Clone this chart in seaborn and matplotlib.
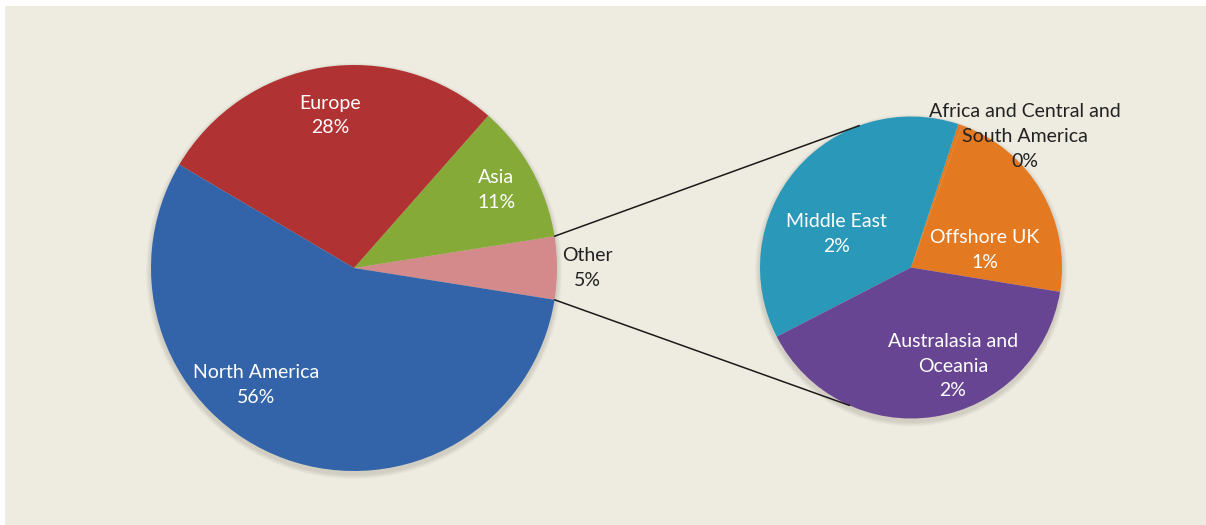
import numpy as np
import matplotlib
matplotlib.use("Agg")
import matplotlib.pyplot as plt
import seaborn as sns
from matplotlib.patches import Rectangle, Circle

# ── data ──────────────────────────────────────────────────────────────────
main_labels = ["Other", "Asia", "Europe", "North America"]
main_values = [5, 11, 28, 56]

sub_labels = ["Offshore UK", "Africa and Central and\nSouth America",
              "Middle East", "Australasia and\nOceania"]
sub_values = [1.11, 0.02, 1.89, 2.0]

# ── styles ────────────────────────────────────────────────────────────────
main_colors = ["#d4898a", "#86aa38", "#b03233", "#3364a9"]
sub_colors = ["#e37a22", "#e37a22", "#2a98b8", "#684593"]
BG = "#eeebe1"

# label placement: (radius fraction, angle offset in degrees, text colour)
main_lab_style = [(1.15, 0, "#222222"), (0.80, 0, "white"),
                  (0.76, 0, "white"), (0.75, -20, "white")]
sub_lab_style = [(0.50, -17, "white"), (1.15, -22, "#222222"),
                 (0.54, 16, "white"), (0.71, 14, "white")]

sns.set_theme(style="white")
plt.rcParams["font.family"] = ["Lato", "DejaVu Sans"]

W, H = 1206, 525
fig = plt.figure(figsize=(W / 100, H / 100), dpi=100, facecolor="white")
ax = fig.add_axes([0, 0, 1, 1])

ax.add_patch(Rectangle((5, 0), W - 5, H - 6, facecolor=BG, edgecolor="none", zorder=0))

main_c, main_r = (354, 257), 203
sub_c, sub_r = (911, 257.5), 151

# soft shadows
for c, r in [(main_c, main_r), (sub_c, sub_r)]:
    for k in range(6):
        ax.add_patch(Circle((c[0], c[1] - 3), r + 1 + k * 0.8, facecolor="#6b6250",
                            alpha=0.035, edgecolor="none", zorder=1))


def draw_pie(values, labels, colors, center, radius, start, styles):
    wedges, _ = ax.pie(values, colors=colors, startangle=start, counterclock=True,
                       center=center, radius=radius, frame=True,
                       wedgeprops=dict(linewidth=0, zorder=2))
    for w, lab, val, (rf, off, col) in zip(wedges, labels, values, styles):
        ang = np.deg2rad((w.theta1 + w.theta2) / 2 + off)
        x = center[0] + rf * radius * np.cos(ang)
        y = center[1] + rf * radius * np.sin(ang)
        ax.text(x, y, f"{lab}\n{val:.0f}%", ha="center", va="center", color=col,
                fontsize=14, linespacing=1.55, zorder=5)
    return wedges


main_w = draw_pie(main_values, main_labels, main_colors, main_c, main_r,
                  -main_values[0] / sum(main_values) * 180, main_lab_style)
sub_w = draw_pie(sub_values, sub_labels, sub_colors, sub_c, sub_r, -9.3, sub_lab_style)

ax.set_xlim(0, W)
ax.set_ylim(0, H)
ax.set_aspect("equal")
ax.axis("off")

# connector lines from "Other" slice edges to the secondary pie
other = main_w[0]
for th_main, th_sub in [(other.theta2, 110), (other.theta1, 246)]:
    a, b = np.deg2rad(th_main), np.deg2rad(th_sub)
    p1 = (main_c[0] + main_r * np.cos(a), main_c[1] + main_r * np.sin(a))
    p2 = (sub_c[0] + sub_r * np.cos(b), sub_c[1] + sub_r * np.sin(b))
    ax.plot([p1[0], p2[0]], [p1[1], p2[1]], color="#1a1a1a", lw=1.1, zorder=3)

fig.savefig("out.png", dpi=100, facecolor="white")
